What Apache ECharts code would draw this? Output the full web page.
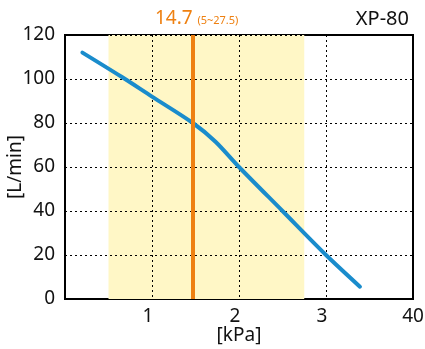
<!DOCTYPE html>
<html><head><meta charset="utf-8">
<script src="https://cdn.jsdelivr.net/npm/echarts@6/dist/echarts.min.js"></script>
<style>html,body{margin:0;padding:0;background:#fff}#c{width:425px;height:349px}</style>
</head><body><div id="c"></div>
<script>
const pressure = [2, 6.5, 10, 14.7, 17.3, 20, 25, 30, 33.9];
const flow = [112, 101, 92, 80, 71.5, 60, 40, 20, 5.6];
const ratedPressure = 14.7;
const rangeMin = 5, rangeMax = 27.5;
const xTickLabels = {10: '1', 20: '2', 30: '3', 40: '40'};
const modelName = 'XP-80';

const font = '"Noto Sans", "Open Sans", sans-serif';
const chart = echarts.init(document.getElementById('c'), null, {renderer: 'canvas'});
chart.setOption({
  animation: false,
  textStyle: {fontFamily: font},
  title: [
    {text: '{a|' + ratedPressure + '} {b|(' + rangeMin + '~' + rangeMax + ')}', left: 150, top: 4,
     textStyle: {fontWeight: 'normal', rich: {a: {fontSize: 19, color: '#ee8011', fontFamily: font, fontWeight: 'normal'},
                        b: {fontSize: 11, color: '#ee8011', fontFamily: font, fontWeight: 'normal', padding: [5, 0, 0, 0]}}}},
    {text: modelName, right: 11, top: 4, textStyle: {fontSize: 20, fontWeight: 'normal', color: '#111', fontFamily: font}}
  ],
  grid: {left: 65, right: 12, top: 35, bottom: 50, containLabel: false, outerBoundsMode: 'none',
         show: true, borderColor: '#000', borderWidth: 2, backgroundColor: 'transparent'},
  xAxis: {
    type: 'value', min: 0, max: 40, interval: 10, z: 2,
    axisLine: {show: false}, axisTick: {show: false},
    splitLine: {show: true, lineStyle: {color: '#000', type: [2, 3], width: 1}},
    axisLabel: {fontSize: 19, color: '#111', margin: 8, fontFamily: font,
      formatter: v => v === 0 ? '' : (v === 40 ? '{b|40}' : '{a|' + (xTickLabels[v] || '') + '}'),
      rich: {a: {fontSize: 19, color: '#111', fontFamily: font, padding: [0, 8, 0, 0]},
             b: {fontSize: 19, color: '#111', fontFamily: font}}},
    name: '[kPa]', nameLocation: 'middle', nameGap: 27, nameMoveOverlap: false,
    nameTextStyle: {fontSize: 19, color: '#111', fontFamily: font}
  },
  yAxis: {
    type: 'value', min: 0, max: 120, interval: 20, z: 2,
    axisLine: {show: false}, axisTick: {show: false},
    splitLine: {show: true, lineStyle: {color: '#000', type: [2, 3], width: 1}},
    axisLabel: {fontSize: 19, color: '#111', margin: 10, fontFamily: font},
    name: '[L/min]', nameLocation: 'middle', nameGap: 40, nameMoveOverlap: false,
    nameTextStyle: {fontSize: 19, color: '#111', fontFamily: font}
  },
  series: [
    {type: 'line', data: [], z: 1,
     markArea: {silent: true, itemStyle: {color: '#fff7c6'},
       data: [[{xAxis: rangeMin}, {xAxis: rangeMax}]]}},
    {type: 'line', z: 3, smooth: 0.3, symbol: 'none',
     data: pressure.map((p, i) => [p, flow[i]]),
     lineStyle: {color: '#1a8ccc', width: 4, cap: 'round'},
     markLine: {silent: true, symbol: 'none', label: {show: false},
       lineStyle: {color: '#ee8011', width: 4, type: 'solid'},
       data: [{xAxis: ratedPressure}]}}
  ]
});
</script></body></html>
